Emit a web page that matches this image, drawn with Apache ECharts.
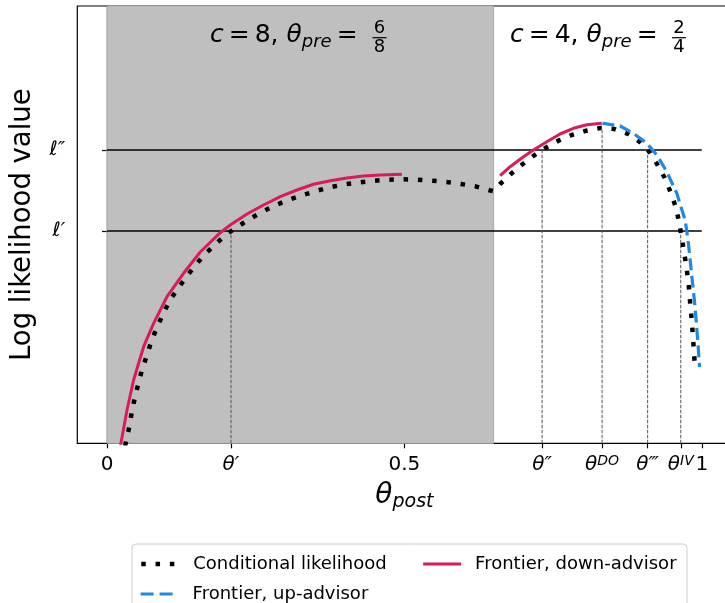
<!DOCTYPE html>
<html><head><meta charset="utf-8">
<script src="https://cdn.jsdelivr.net/npm/echarts@6/dist/echarts.min.js"></script>
<style>html,body{margin:0;padding:0;background:#fff}#c{width:725px;height:603px}</style>
</head><body><div id="c"></div>
<script>
const FONT = "'DejaVu Sans', sans-serif";

// ---- tick positions / labels ----
const xTickValues = [0, 0.2084, 0.5, 0.7316, 0.8324, 0.909, 0.9647, 1];
const xTickLabels = ['0', '{t|θ′}', '0.5', '{t|θ″}', '{t|θ}{s|DO}', '{t|θ‴}', '{t|θ}{s|IV}', '1'];
const yTickValues = [48.55, 67.07];
const yTickLabels = ['{t|ℓ′}', '{t|ℓ″}'];

// ---- reference levels and guides ----
const levels = [48.55, 67.07];            // ℓ′, ℓ″
const guideX = [0.2084, 0.7316, 0.8324, 0.909, 0.9647];
const guideTop = [48.55, 67.07, 72.1, 67.07, 48.55];
const shade = [0, 0.65];

// ---- conditional likelihood ----
const condX = [0.0304,0.0380,0.0420,0.0471,0.0531,0.0593,0.0672,0.0745,0.0840,0.0941,0.1052,0.1187,0.1328,0.1479,0.1640,0.1815,0.2000,0.2195,0.2397,0.2615,0.2840,0.3064,0.3294,0.3529,0.3765,0.4005,0.4245,0.4492,0.4733,0.4980,0.5227,0.5467,0.5708,0.5950,0.6195,0.6430,0.6500,0.6610,0.6790,0.6985,0.7176,0.7378,0.7590,0.7815,0.8055,0.8296,0.8531,0.8761,0.8968,0.9131,0.9254,0.9378,0.9472,0.9556,0.9613,0.9652,0.9691,0.9731,0.9765,0.9792,0.9808,0.9832,0.9849,0.9866,0.9882];
const condY = [-0.6,4.12,7.45,10.66,13.86,17.06,20.19,23.32,26.53,29.50,32.61,35.28,37.96,40.61,43.13,45.42,47.70,49.53,51.29,52.96,54.49,55.70,56.78,57.76,58.61,59.23,59.68,60.05,60.28,60.37,60.28,60.05,59.75,59.30,58.77,57.86,57.65,59.30,61.58,63.80,65.77,67.60,69.20,70.50,71.48,72.10,71.87,70.73,68.83,66.45,63.71,60.67,57.54,54.33,51.06,47.86,44.73,41.30,37.96,34.67,31.40,28.20,24.77,21.50,18.07];

// ---- frontier, down-advisor (two pieces) ----
const downX1 = [0.0227,0.0235,0.0336,0.0447,0.0615,0.0783,0.1008,0.1287,0.1568,0.1904,0.2072,0.2353,0.2632,0.2913,0.3193,0.3472,0.3753,0.4034,0.4313,0.4593,0.4958];
const downY1 = [-0.6,0.14,7.61,14.48,22.09,27.44,33.52,38.88,43.75,48.16,49.92,52.44,54.49,56.39,57.92,59.23,60.05,60.67,61.13,61.35,61.51];
const downX2 = [0.6610,0.6778,0.7002,0.7170,0.7395,0.7618,0.7842,0.8067,0.8319];
const downY2 = [61.19,63.25,65.54,67.07,68.97,70.73,72.03,72.86,73.18];

// ---- frontier, up-advisor ----
const upX = [0.8330,0.8627,0.8850,0.9076,0.9244,0.9412,0.9580,0.9719,0.9748,0.9778,0.9812,0.9845,0.9879,0.9908,0.9934,0.9958,0.9963];
const upY = [73.18,72.56,70.89,68.60,65.93,62.11,57.17,51.06,48.55,45.35,41.00,36.66,32.31,27.74,23.16,18.59,17.45];

const pairs = (xs, ys) => xs.map((x, i) => [x, ys[i]]);
const nearestIdx = (arr, v) => { let b = 0; arr.forEach((a, i) => { if (Math.abs(a - v) < Math.abs(arr[b] - v)) b = i; }); return b; };

const series = [];
series.push({
  type: 'line', data: [[shade[0], 0]], symbol: 'none', silent: true, z: 1,
  markArea: { silent: true, itemStyle: { color: '#bfbfbf', borderColor: '#a9a9a9', borderWidth: 1 },
    data: [[{ xAxis: shade[0], yAxis: 0 }, { xAxis: shade[1], yAxis: 100 }]] }
});
levels.forEach(l => series.push({
  type: 'line', data: [[0, l], [1, l]], symbol: 'none', silent: true, z: 2,
  lineStyle: { color: '#000', width: 1.5 }
}));
guideX.forEach((x, i) => series.push({
  type: 'line', data: [[x, 0], [x, guideTop[i]]], symbol: 'none', silent: true, z: 2,
  lineStyle: { color: '#555', width: 1, type: [3.5, 1.5] }
}));
series.push({
  name: 'Conditional likelihood', type: 'line', data: pairs(condX, condY), symbol: 'none', z: 4,
  color: '#000', lineStyle: { color: '#000', width: 4.5, type: [4.5, 9.8], cap: 'butt', join: 'round' }
});
series.push({
  name: 'Frontier, up-advisor', type: 'line', data: pairs(upX, upY), symbol: 'none', z: 5,
  color: '#1E88E5', lineStyle: { color: '#1E88E5', width: 3.2, type: [12, 5.5], cap: 'butt', join: 'round' }
});
series.push({
  name: 'Frontier, down-advisor', type: 'line',
  data: pairs(downX1, downY1).concat([[0.58, '-']], pairs(downX2, downY2)),
  symbol: 'none', z: 6, connectNulls: false,
  color: '#D81B60', lineStyle: { color: '#D81B60', width: 3, join: 'round' }
});

const legendCommon = {
  left: 139, itemWidth: 38, itemHeight: 14, itemGap: 35, padding: 0, selectedMode: false,
  itemStyle: { opacity: 0 },
  lineStyle: { width: 'inherit', type: 'inherit', cap: 'butt' },
  formatter: n => '{g| }' + n,
  textStyle: { fontSize: 18, fontFamily: FONT, color: '#000', rich: { g: { width: 9 } } }
};

const supRich = {
  t: { fontStyle: 'italic', fontSize: 20, lineHeight: 20, fontFamily: FONT, color: '#000' },
  s: { fontStyle: 'italic', fontSize: 14, lineHeight: 14, verticalAlign: 'top', fontFamily: FONT, color: '#000' }
};

function annot(x, text) {
  return { type: 'text', x: x, y: 35, z: 10, style: {
    text: text, fontSize: 25, fontFamily: FONT, fill: '#000', lineHeight: 30,
    verticalAlign: 'middle', align: 'left',
    rich: {
      i: { fontStyle: 'italic', fontSize: 25, lineHeight: 30, fontFamily: FONT },
      s: { fontStyle: 'italic', fontSize: 18, lineHeight: 17, padding: [13, 0, 0, 0], verticalAlign: 'top', fontFamily: FONT }
    } } };
}
function frac(cx, num, den) {
  return [
    { type: 'text', x: cx, y: 28.5, z: 10, style: { text: num, fontSize: 18, fontFamily: FONT, fill: '#000', align: 'center', verticalAlign: 'middle' } },
    { type: 'line', z: 10, shape: { x1: cx - 7, y1: 37.7, x2: cx + 7, y2: 37.7 }, style: { stroke: '#000', lineWidth: 1.2 } },
    { type: 'text', x: cx, y: 47.5, z: 10, style: { text: den, fontSize: 18, fontFamily: FONT, fill: '#000', align: 'center', verticalAlign: 'middle' } }
  ];
}

const option = {
  animation: false,
  backgroundColor: '#fff',
  grid: { left: 77.3, top: 6, right: -6.5, bottom: 159.7, outerBoundsMode: 'none', containLabel: false,
    show: true, borderColor: '#000', borderWidth: 1.2, backgroundColor: 'transparent' },
  xAxis: {
    type: 'value', min: -0.05, max: 1.05,
    name: '{t|θ}{s|post}', nameLocation: 'middle', nameGap: 36,
    nameTextStyle: { fontSize: 28, fontFamily: FONT, color: '#000', rich: {
      t: { fontStyle: 'italic', fontSize: 28, lineHeight: 32, fontFamily: FONT, color: '#000' },
      s: { fontStyle: 'italic', fontSize: 19, lineHeight: 18, verticalAlign: 'bottom', fontFamily: FONT, color: '#000' } } },
    axisLine: { show: true, lineStyle: { color: '#000', width: 1.2 } },
    axisTick: { show: true, customValues: xTickValues, length: 5, lineStyle: { color: '#000', width: 1.2 } },
    axisLabel: { customValues: xTickValues, formatter: v => xTickLabels[nearestIdx(xTickValues, v)],
      fontSize: 20, lineHeight: 20, fontFamily: FONT, color: '#000', margin: 11, rich: supRich },
    splitLine: { show: false }
  },
  yAxis: {
    type: 'value', min: 0, max: 100,
    name: 'Log likelihood value', nameLocation: 'middle', nameGap: 40,
    nameTextStyle: { fontSize: 27.5, fontFamily: FONT, color: '#000' },
    axisLine: { show: true, lineStyle: { color: '#000', width: 1.2 } },
    axisTick: { show: true, customValues: yTickValues, length: 5, lineStyle: { color: '#000', width: 1.2 } },
    axisLabel: { customValues: yTickValues, formatter: v => yTickLabels[nearestIdx(yTickValues, v)],
      fontSize: 20, fontFamily: FONT, color: '#000', margin: 12, rich: supRich },
    splitLine: { show: false }
  },
  legend: [
    Object.assign({}, legendCommon, { top: 555, data: ['Conditional likelihood', 'Frontier, down-advisor'] }),
    Object.assign({}, legendCommon, { top: 585, data: [{ name: 'Frontier, up-advisor', lineStyle: { type: [13, 6] } }] })
  ],
  graphic: [
    { type: 'rect', z: 0, shape: { x: 132, y: 544, width: 555, height: 66, r: 4 }, style: { fill: 'rgba(255,255,255,0.8)', stroke: '#cccccc', lineWidth: 1 } },
    annot(210, '{i|c}\u2009=\u20098, {i|θ}{s|pre}\u2009='),
    ...frac(379.5, '6', '8'),
    annot(510, '{i|c}\u2009=\u20094, {i|θ}{s|pre}\u2009='),
    ...frac(679, '2', '4')
  ],
  series: series
};

const chart = echarts.init(document.getElementById('c'));
chart.setOption(option);
</script>
</body></html>
